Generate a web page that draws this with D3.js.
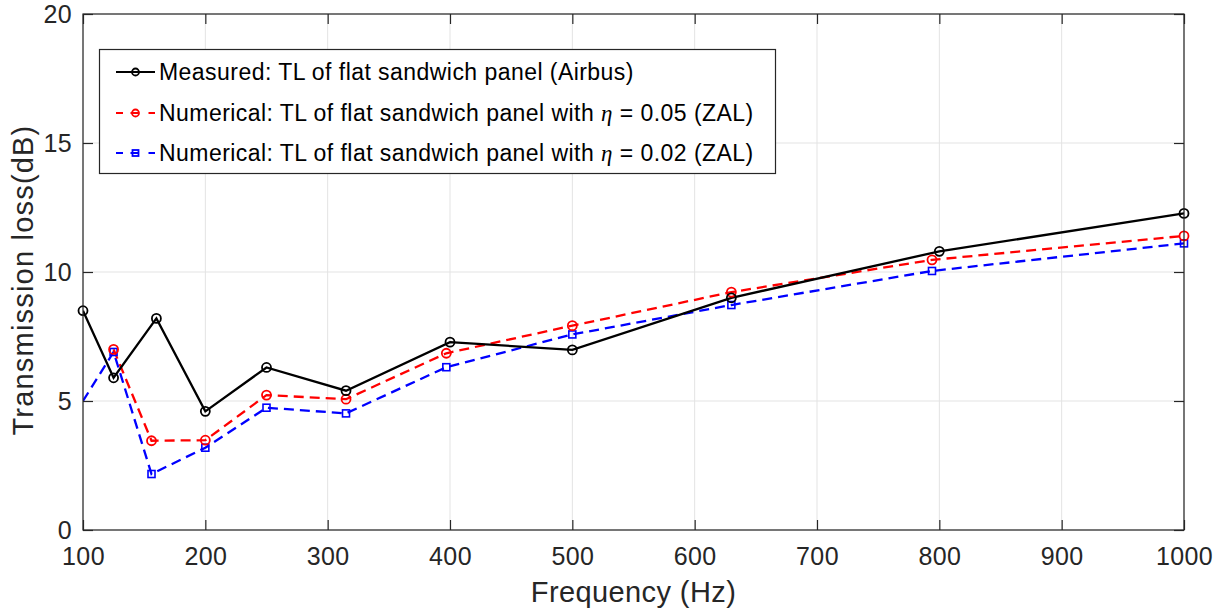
<!DOCTYPE html>
<html><head><meta charset="utf-8">
<script src="https://cdn.jsdelivr.net/npm/d3@7"></script>
<style>body{margin:0;background:#fff;} svg{display:block;font-family:"Liberation Sans",Arial,sans-serif;}</style>
</head><body><svg id="c" width="1223" height="613"></svg>
<script>
const measuredFreq = [100,125,160,200,250,315,400,500,630,800,1000];
const measuredTL   = [8.5,5.9,8.2,4.6,6.3,5.4,7.28,6.98,9.0,10.8,12.27];
const eta05Freq = [125,156,200,250,315,397,500,630,794,1000];
const eta05TL   = [7.0,3.46,3.48,5.23,5.07,6.85,7.92,9.22,10.47,11.4];
const eta02Freq = [100,125,156,200,250,315,397,500,630,794,1000];
const eta02TL   = [5.0,6.9,2.17,3.19,4.74,4.52,6.31,7.58,8.72,10.04,11.11];
const xTicks = [100,200,300,400,500,600,700,800,900,1000];
const yTicks = [0,5,10,15,20];
const legendLabels = [
  "Measured: TL of flat sandwich panel (Airbus)",
  "Numerical: TL of flat sandwich panel with η = 0.05 (ZAL)",
  "Numerical: TL of flat sandwich panel with η = 0.02 (ZAL)"
];

const svg = d3.select("#c");
const L=83, R=1184, T=14, B=530;
const x = d3.scaleLinear().domain([100,1000]).range([L,R]);
const y = d3.scaleLinear().domain([0,20]).range([B,T]);
const axisCol = "#262626";

// grid
const g = svg.append("g");
g.selectAll(".gx").data(xTicks).enter().append("line")
  .attr("x1",d=>x(d)).attr("x2",d=>x(d)).attr("y1",T).attr("y2",B)
  .attr("stroke","#e3e3e3").attr("stroke-width",1);
g.selectAll(".gy").data(yTicks).enter().append("line")
  .attr("y1",d=>y(d)).attr("y2",d=>y(d)).attr("x1",L).attr("x2",R)
  .attr("stroke","#e3e3e3").attr("stroke-width",1);

// series
svg.append("clipPath").attr("id","pc").append("rect")
  .attr("x",L).attr("y",T).attr("width",R-L).attr("height",B-T);
const series = [
  {f:measuredFreq, v:measuredTL, color:"#000000", dash:null, marker:"circle", skipFirst:false},
  {f:eta05Freq, v:eta05TL, color:"#ff0000", dash:"10,6", marker:"circle", skipFirst:false},
  {f:eta02Freq, v:eta02TL, color:"#0000ff", dash:"10,6", marker:"square", skipFirst:true}
];
const line = d3.line().x(d=>x(d[0])).y(d=>y(d[1]));
const plot = svg.append("g").attr("clip-path","url(#pc)");
[2,1,0].forEach(i=>{
  const s = series[i];
  const pts = s.f.map((f,j)=>[f,s.v[j]]);
  plot.append("path").datum(pts).attr("d",line).attr("fill","none")
    .attr("stroke",s.color).attr("stroke-width",2.3)
    .attr("stroke-dasharray",s.dash);
  const mp = s.skipFirst ? pts.slice(1) : pts;
  if(s.marker==="circle"){
    svg.append("g").selectAll("circle").data(mp).enter().append("circle")
      .attr("cx",d=>x(d[0])).attr("cy",d=>y(d[1])).attr("r",4.5)
      .attr("fill","none").attr("stroke",s.color).attr("stroke-width",1.8);
  } else {
    svg.append("g").selectAll("rect").data(mp).enter().append("rect")
      .attr("x",d=>x(d[0])-3.5).attr("y",d=>y(d[1])-3.5).attr("width",7).attr("height",7)
      .attr("fill","none").attr("stroke",s.color).attr("stroke-width",1.6);
  }
});

// axes box
svg.append("rect").attr("x",L).attr("y",T).attr("width",R-L).attr("height",B-T)
  .attr("fill","none").attr("stroke",axisCol).attr("stroke-width",1.2);

const fmt = d3.format("d");
const xAxisB = d3.axisBottom(x).tickValues(xTicks).tickSizeInner(-10).tickSizeOuter(0).tickPadding(17).tickFormat(fmt);
const gxB = svg.append("g").attr("transform",`translate(0,${B})`).call(xAxisB);
const xAxisT = d3.axisTop(x).tickValues(xTicks).tickSizeInner(-10).tickSizeOuter(0).tickFormat("");
const gxT = svg.append("g").attr("transform",`translate(0,${T})`).call(xAxisT);
const yAxisL = d3.axisLeft(y).tickValues(yTicks).tickSizeInner(-10).tickSizeOuter(0).tickPadding(11).tickFormat(fmt);
const gyL = svg.append("g").attr("transform",`translate(${L},0)`).call(yAxisL);
const yAxisR = d3.axisRight(y).tickValues(yTicks).tickSizeInner(-10).tickSizeOuter(0).tickFormat("");
const gyR = svg.append("g").attr("transform",`translate(${R},0)`).call(yAxisR);
[gxB,gxT,gyL,gyR].forEach(a=>{
  a.select(".domain").remove();
  a.selectAll(".tick line").attr("stroke",axisCol).attr("stroke-width",1.2);
  a.selectAll(".tick text").attr("fill",axisCol).attr("font-size","25px")
    .attr("letter-spacing","0.4px")
    .attr("font-family","Liberation Sans, Arial, sans-serif");
});

// axis labels
svg.append("text").attr("x",(L+R)/2).attr("y",602).attr("text-anchor","middle")
  .attr("font-size","29px").attr("letter-spacing","0.4px").attr("fill",axisCol).text("Frequency (Hz)");
svg.append("text").attr("transform",`translate(33,280) rotate(-90)`)
  .attr("text-anchor","middle").attr("font-size","29px").attr("letter-spacing","1.2px").attr("fill",axisCol)
  .text("Transmission loss(dB)");

// legend
const lg = svg.append("g");
lg.append("rect").attr("x",99.5).attr("y",49.5).attr("width",676).attr("height",124)
  .attr("fill","#fff").attr("stroke",axisCol).attr("stroke-width",1.2);
const rowY = [72,113,153];
series.forEach((s,i)=>{
  const yy = rowY[i];
  lg.append("line").attr("x1",116).attr("x2",155).attr("y1",yy).attr("y2",yy)
    .attr("stroke",s.color).attr("stroke-width",2.2)
    .attr("stroke-dasharray", s.dash ? "7,7.5,8,10" : null);
  if(s.marker==="circle"){
    lg.append("circle").attr("cx",135.5).attr("cy",yy).attr("r",3.5)
      .attr("fill","none").attr("stroke",s.color).attr("stroke-width",1.8);
  } else {
    lg.append("rect").attr("x",132.5).attr("y",yy-3).attr("width",6).attr("height",6)
      .attr("fill","none").attr("stroke",s.color).attr("stroke-width",1.8);
  }
  const t = lg.append("text").attr("x",159).attr("y",yy+8).attr("font-size","23px")
    .attr("letter-spacing","0.45px").attr("fill","#000");
  const parts = legendLabels[i].split("η");
  t.append("tspan").text(parts[0]);
  if(parts.length>1){
    t.append("tspan").attr("font-style","italic").attr("font-family","Liberation Serif, serif").text("η");
    t.append("tspan").text(parts[1]);
  }
});
</script></body></html>
